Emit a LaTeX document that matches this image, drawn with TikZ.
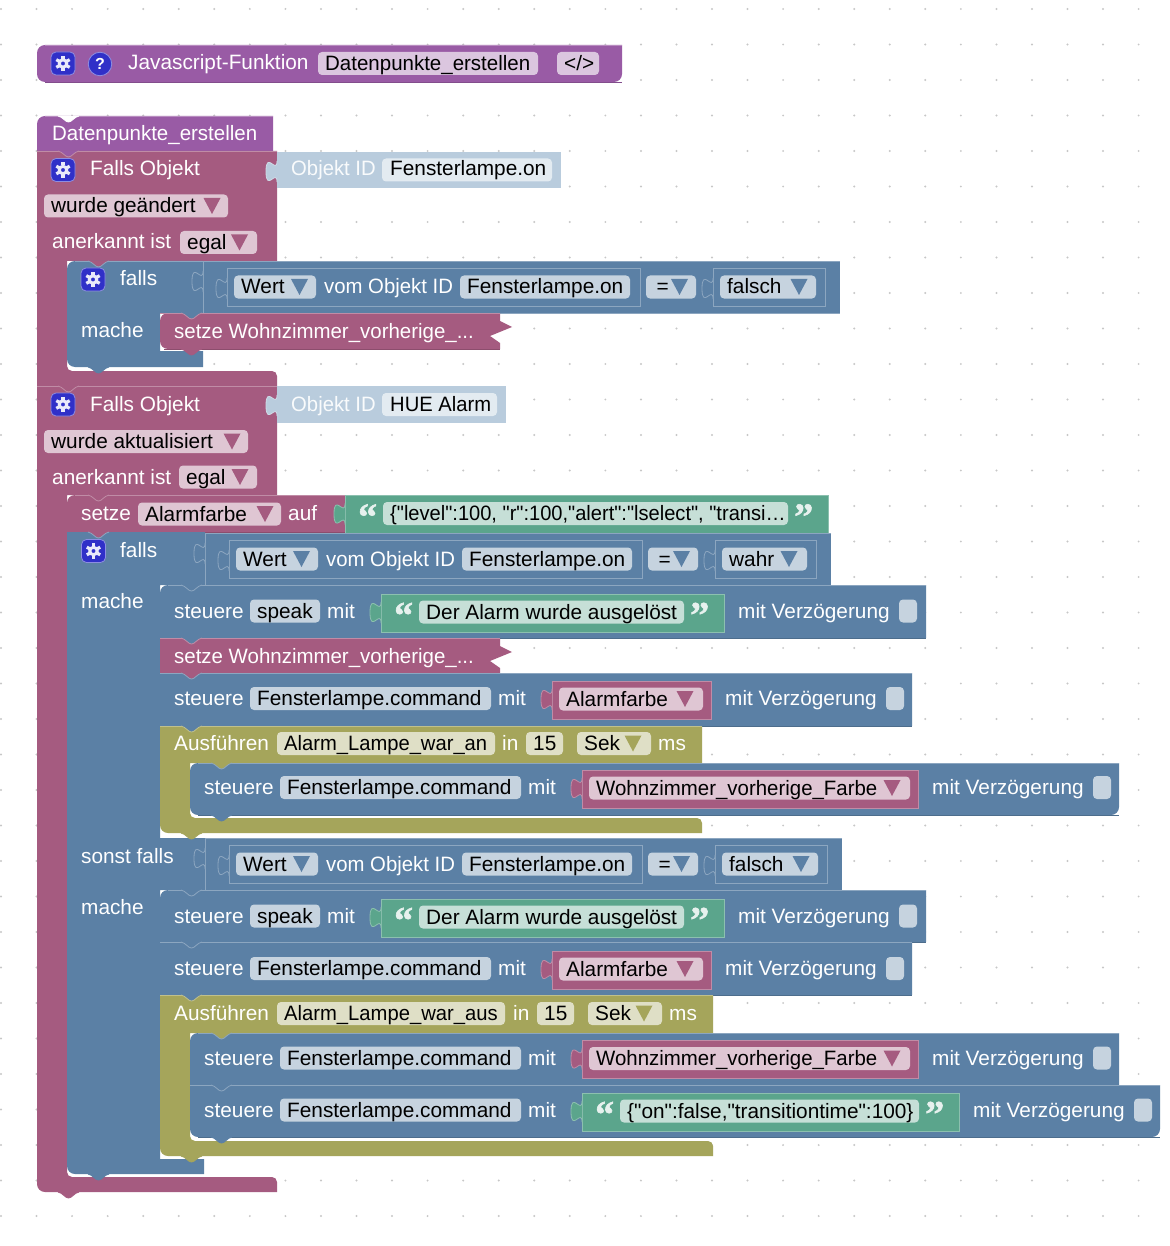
\documentclass[tikz,border=0pt]{standalone}
\usepackage{fontspec}
\newfontfamily\blockfamily{Liberation Sans}
\newfontfamily\quotefont[BoldFeatures={FakeBold=1.5}]{Liberation Serif}
\definecolor{blockblue}{HTML}{5B80A5}
\definecolor{blockpink}{HTML}{A55B80}
\definecolor{blockgreen}{HTML}{5BA58C}
\definecolor{blockolive}{HTML}{A5A55B}
\definecolor{blockpurple}{HTML}{995BA5}
\definecolor{blockpale}{HTML}{B9CCDD}
\definecolor{iconblue}{HTML}{3030C8}
\newcommand{\blockfont}{\blockfamily\fontsize{20.8}{24}\selectfont}
\newcommand{\tight}[2]{\scalebox{#1}[1]{#2}}
% plain text on a block
\newcommand{\lbl}[4]{\node (#1) [blocktext] at (#2,#3+7) {#4};}
% editable field: name, x1, x2, y, colour, text
\newcommand{\fld}[6]{\fill[#5!35!white,rounded corners=4pt] (#2,#4-11.5) rectangle (#3,#4+11.5);
  \node (#1) [fieldtext] at (#2+7,#4+7) {#6};}
\newcommand{\dropmark}[3]{\fill[#3] (#1-8.5,#2-8) -- (#1+8.5,#2-8) -- (#1,#2+8) -- cycle;}
% block body: x1, y1, x2, y2, colour, top left radius, bottom left radius
\newcommand{\blk}[7]{\fill[#5] (#3,#4) -- (#3,#2) [rounded corners=#6pt] -- (#1,#2) -- (#1,#2/2+#4/2) [rounded corners=#7pt] -- (#1,#4) -- cycle;
  \draw[#5!70!white,edgeline] (#1+#6,#2) -- (#3,#2);
  \draw[#5!85!black,edgeline] (#1+#7,#4) -- (#3,#4);}
% value block with an outline
\newcommand{\valblk}[5]{\path[fill=#5,draw=#5!70!white,edgeline] (#1,#2) rectangle (#3,#4);}
% puzzle tab of a value block
\newcommand{\puz}[3]{\fill[#3] (#1,#2) .. controls (#1,#2+14) and (#1-11,#2-11) .. (#1-11,#2+10.5)
    .. controls (#1-11,#2+32) and (#1,#2+7) .. (#1,#2+21) -- cycle;
  \draw[#3!70!white,edgeline] (#1,#2) .. controls (#1,#2+14) and (#1-11,#2-11) .. (#1-11,#2+10.5)
    .. controls (#1-11,#2+32) and (#1,#2+7) .. (#1,#2+21);}
% statement tab: x, y, colour, edge colour
\newcommand{\nub}[4]{\fill[#3] (#1,#2) .. controls (#1+5,#2+1) and (#1+7,#2+6) .. (#1+10.5,#2+6)
    .. controls (#1+14,#2+6) and (#1+16,#2+1) .. (#1+21,#2) -- cycle;
  \draw[#4,edgeline] (#1,#2) .. controls (#1+5,#2+1) and (#1+7,#2+6) .. (#1+10.5,#2+6)
    .. controls (#1+14,#2+6) and (#1+16,#2+1) .. (#1+21,#2);}
\newcommand{\gearicon}[3]{\node (#1) [iconbox] at (#2,#3) {};
  \draw[gearring] (#1.center) circle (3.7pt);
  \foreach \ga in {30,90,...,330} \draw[gearteeth] (#1.center) ++(\ga:4.5pt) -- ++(\ga:3.2pt);}
% the zigzag statement
\newcommand{\setzeblk}[3]{\fill[blockpink] (500,#2) -- (500,#2+8) -- (512,#2+14) -- (490,#2+23) -- (500,#2+30) -- (500,#3)
    [rounded corners=#1pt] -- (160,#3) -- (160,#2/2+#3/2) -- (160,#2) [sharp corners] -- cycle;
  \draw[blockpink!70!white,edgeline] (160,#2) -- (500,#2);
  \draw[blockpink!85!black,edgeline] (164,#3) -- (500,#3);
  \lbl{sz#2}{174}{#2+18}{\tight{.983}{setze Wohnzimmer\_vorherige\_...}}}
% compare row: prefix, x offset, y, word, right of its field, arrow, right of its block, right end
\newcommand{\cmpblock}[8]{\begin{scope}[shift={(#2,#3)}]
    \fill[blockblue] (203,-26) rectangle (#8,26);
    \draw[blockblue!70!white,edgeline] (#8,-26) -- (203,-26) -- (203,26) -- (#8,26);
    \puz{203}{-16}{blockblue}
    \valblk{227}{-19}{640}{19}{blockblue}
    \puz{227}{-9}{blockblue}
    \fld{#1w}{234}{316}{0}{blockblue}{Wert}
    \dropmark{299.5}{0}{blockblue}
    \lbl{#1o}{324}{0}{\tight{.977}{vom Objekt ID}}
    \fld{#1f}{460}{630}{0}{blockblue}{Fensterlampe.on}
    \fld{#1e}{646}{696}{0}{blockblue}{\,=}
    \dropmark{679.5}{0}{blockblue}
    \valblk{713}{-19}{#7}{19}{blockblue}
    \puz{713}{-9}{blockblue}
    \fld{#1b}{720}{#5}{0}{blockblue}{#4}
    \dropmark{#6}{0}{blockblue}
  \end{scope}}
% steuere row: prefix, x, y, device, right of its field, x of mit
\newcommand{\steuerhead}[6]{\lbl{#1s}{#2+14}{#3}{steuere}
  \fld{#1d}{#2+90}{#5}{#3}{blockblue}{#4}
  \lbl{#1m}{#6}{#3}{mit}}
\newcommand{\delay}[3]{\lbl{#1v}{#2}{#3}{mit Verzögerung}
  \fill[blockblue!35!white,rounded corners=4pt] (#2+161,#3-11.5) rectangle (#2+179,#3+11.5);}
% pink variable value: prefix, x1, x2, y, text, arrow
\newcommand{\varval}[6]{\valblk{#2}{#4-18}{#3}{#4+20}{blockpink}
  \puz{#2}{#4-10}{blockpink}
  \fld{#1a}{#2+7}{#3-8}{#4}{blockpink}{#5}
  \dropmark{#6}{#4}{blockpink}}
% green text value: prefix, x1, right of the field, y, text
\newcommand{\strval}[5]{\valblk{#2}{#4-18}{#3+40}{#4+20}{blockgreen}
  \puz{#2}{#4-10}{blockgreen}
  \node (#1q) [quotemark] at (#2+13,#4+16) {“};
  \fld{#1t}{#2+38}{#3}{#4}{blockgreen}{#5}
  \node (#1r) [quotemark] at (#3+6,#4+16) {”};}
\begin{document}
\begin{tikzpicture}[x=1pt,y=-1pt,
    blocktext/.style={anchor=base west,inner sep=0pt,text=white,font=\blockfont},
    paletext/.style={blocktext,text=white!92!blockpale},
    fieldtext/.style={blocktext,text=black},
    quotemark/.style={anchor=base west,inner sep=0pt,text=white!85!blockgreen,font=\quotefont\bfseries\fontsize{38}{38}\selectfont},
    edgeline/.style={line width=0.8pt},
    griddot/.style={fill=black!22},
    iconbox/.style={rectangle,rounded corners=5pt,minimum width=24pt,minimum height=23pt,inner sep=0pt,fill=iconblue,draw=iconblue!55!white,line width=0.8pt},
    helpbox/.style={circle,minimum size=23.5pt,inner sep=0pt,fill=iconblue,draw=iconblue!55!white,line width=0.8pt,text=white,font=\blockfamily\bfseries\fontsize{16}{16}\selectfont},
    gearring/.style={draw=white!90!iconblue,line width=3pt},
    gearteeth/.style={draw=white!90!iconblue,line width=3.2pt}
  ]
  \useasboundingbox (0,0) rectangle (1169,1246);
  \fill[white] (0,0) rectangle (1169,1246);
  \foreach \gx in {0,...,32} \foreach \gy in {0,...,34}
    \fill[griddot] (1+35.55*\gx,9+35.5*\gy) circle (1.1pt);

  % function block
  \blk{37}{45}{622}{82}{blockpurple}{8}{8}
  \gearicon{gfunc}{63}{63.5}
  \node (help) [helpbox] at (100,64) {?};
  \lbl{jsfunc}{128}{63}{Javascript-Funktion}
  \fld{fname}{318}{538}{63.5}{blockpurple}{\tight{.985}{Datenpunkte\_erstellen}}
  \fld{fcode}{557}{599}{63.5}{blockpurple}{</>}

  % hat
  \blk{37}{116}{273}{151}{blockpurple}{8}{.1}
  \nub{58}{116}{white}{white}
  \lbl{hat}{52}{134}{\tight{.985}{Datenpunkte\_erstellen}}

  % first trigger
  \fill[blockpink] (37,151) -- (277,151) -- (277,261) -- (67,261) [rounded corners=5pt] -- (67,371) -- (277,371) [sharp corners] -- (277,386) -- (37,386) -- cycle;
  \draw[blockpink!70!white,edgeline] (37,151) -- (277,151);
  \nub{58}{151}{blockpurple}{blockpink!70!white}
  \gearicon{gtrig}{63}{170}
  \lbl{trigt}{90}{169}{Falls Objekt}
  \fill[blockpale] (277,152) rectangle (561,188);
  \puz{277}{161}{blockpale}
  \node (trigo) [paletext] at (291,176) {\tight{.975}{Objekt ID}};
  \fill[blockpale!40!white,rounded corners=4pt] (382,158.5) rectangle (552,181.5);
  \node (trigf) [fieldtext] at (390,176) {Fensterlampe.on};
  \fld{trigc}{44}{228}{206}{blockpink}{wurde geändert}
  \dropmark{212}{206}{blockpink}
  \lbl{trigk}{52}{242}{anerkannt ist}
  \fld{trige}{180}{257}{242.5}{blockpink}{egal}
  \dropmark{239.5}{242.5}{blockpink}

  % first falls
  \fill[blockblue] (160,351) -- (203,351) -- (203,367) [rounded corners=8pt] -- (67,367) -- (67,320) -- (67,261) [sharp corners] -- (203,261) -- (203,313) -- (160,313) -- cycle;
  \draw[blockblue!70!white,edgeline] (67,261) ++(8,0) -- (203,261);
  \cmpblock{ca}{0}{287}{falsch}{816}{799}{825}{840}
  \nub{88}{261}{blockpink}{blockblue!70!white}
  \gearicon{gfa}{93}{279.5}
  \lbl{fa}{120}{279}{falls}
  \lbl{ma}{81}{330}{mache}
  \setzeblk{8}{313}{349}
  \nub{181}{313}{blockblue}{blockpink!70!white}
  \nub{181}{349}{blockpink}{blockpink}
  \nub{88}{367}{blockblue}{blockblue}

  % second trigger
  \fill[blockpink] (37,386) -- (277,386) -- (277,495) -- (67,495) [rounded corners=5pt] -- (67,1177) -- (277,1177) [sharp corners] -- (277,1192) [rounded corners=8pt] -- (37,1192) -- (37,800) [sharp corners] -- cycle;
  \draw[blockpink!70!white,edgeline] (37,386) -- (277,386);
  \nub{58}{386}{blockpink}{blockpink!70!white}
  \nub{58}{1192}{blockpink}{blockpink}
  \gearicon{gtrigb}{63}{404.5}
  \lbl{trigbt}{90}{404}{Falls Objekt}
  \fill[blockpale] (277,386) rectangle (506,423);
  \puz{277}{395}{blockpale}
  \node (trigbo) [paletext] at (291,411) {\tight{.975}{Objekt ID}};
  \fill[blockpale!40!white,rounded corners=4pt] (382,393) rectangle (497,416);
  \node (trigbf) [fieldtext] at (390,411) {\tight{.97}{HUE Alarm}};
  \fld{trigbc}{44}{248}{441.5}{blockpink}{wurde aktualisiert}
  \dropmark{232}{441.5}{blockpink}
  \lbl{trigbk}{52}{477}{anerkannt ist}
  \fld{trigbe}{179}{257}{477}{blockpink}{egal}
  \dropmark{240}{477}{blockpink}

  % setze colour
  \blk{67}{495}{345}{532}{blockpink}{8}{.1}
  \nub{88}{495}{blockpink}{blockpink!70!white}
  \lbl{sct}{81}{513}{setze}
  \fld{sca}{138}{281}{514}{blockpink}{Alarmfarbe}
  \dropmark{265}{514}{blockpink}
  \lbl{scb}{288}{513}{auf}
  \strval{sc}{345}{788}{513.5}{\tight{.965}{\{"level":100, "r":100,"alert":"lselect", "transi…}}

  % second falls
  \fill[blockblue] (67,532) -- (205,532) -- (205,585) -- (160,585) -- (160,838) -- (205,838) -- (205,890) -- (160,890) -- (160,1159) -- (204,1159) -- (204,1174) [rounded corners=8pt] -- (67,1174) -- (67,800) [sharp corners] -- cycle;
  \cmpblock{cb}{2}{559}{wahr}{805}{787}{814}{829}
  \cmpblock{cc}{2}{864}{falsch}{816}{799}{825}{840}
  \nub{88}{532}{blockpink}{blockblue!70!white}
  \nub{88}{1174}{blockblue}{blockblue}
  \gearicon{gfb}{93.5}{551}
  \lbl{fb}{120}{550}{falls}
  \lbl{mb}{81}{601}{mache}
  \lbl{fc}{81}{856}{sonst falls}
  \lbl{mc}{81}{907}{mache}

  % statements of the falls
  \blk{160}{585}{926}{638}{blockblue}{8}{.1}
  \nub{181}{585}{blockblue}{blockblue!70!white}
  \steuerhead{ra}{160}{611}{speak}{320}{327}
  \strval{ra}{381}{684}{612}{Der Alarm wurde ausgelöst}
  \delay{ra}{738}{611}

  \setzeblk{.1}{638}{673}
  \nub{181}{638}{blockblue}{blockpink!70!white}

  \blk{160}{673}{912}{726}{blockblue}{.1}{.1}
  \nub{181}{673}{blockpink}{blockblue!70!white}
  \steuerhead{rb}{160}{698.5}{Fensterlampe.command}{491}{498}
  \varval{rb}{552}{711}{699}{Alarmfarbe}{685}
  \delay{rb}{725}{698.5}

  \fill[blockolive] (160,726) -- (702,726) -- (702,763) -- (190,763) [rounded corners=5pt] -- (190,818) -- (702,818) [sharp corners] -- (702,833) [rounded corners=8pt] -- (160,833) -- (160,780) [sharp corners] -- cycle;
  \draw[blockolive!70!white,edgeline] (160,726) -- (702,726);
  \nub{181}{726}{blockblue}{blockolive!70!white}
  \nub{181}{833}{blockolive}{blockolive}
  \lbl{rc}{174}{743}{Ausführen}
  \fld{rca}{277}{495}{743.5}{blockolive}{\tight{.97}{Alarm\_Lampe\_war\_an}}
  \lbl{rcb}{502}{743}{in}
  \fld{rcc}{526}{563}{743.5}{blockolive}{15}
  \fld{rcd}{577}{651}{743.5}{blockolive}{Sek}
  \dropmark{633}{743.5}{blockolive}
  \lbl{rce}{658}{743}{ms}

  \blk{190}{763}{1119}{815}{blockblue}{8}{8}
  \nub{211}{763}{blockolive}{blockblue!70!white}
  \nub{211}{815}{blockblue}{blockblue}
  \steuerhead{rd}{190}{787.5}{Fensterlampe.command}{521}{528}
  \varval{rd}{582}{918}{788}{\tight{.982}{Wohnzimmer\_vorherige\_Farbe}}{892}
  \delay{rd}{932}{787.5}

  % statements of the sonst falls
  \blk{160}{890}{926}{942}{blockblue}{8}{.1}
  \nub{181}{890}{blockblue}{blockblue!70!white}
  \steuerhead{re}{160}{916}{speak}{320}{327}
  \strval{re}{381}{684}{917}{Der Alarm wurde ausgelöst}
  \delay{re}{738}{916}

  \blk{160}{942}{912}{995}{blockblue}{.1}{.1}
  \nub{181}{942}{blockblue}{blockblue!70!white}
  \steuerhead{rf}{160}{968.5}{Fensterlampe.command}{491}{498}
  \varval{rf}{552}{711}{969}{Alarmfarbe}{685}
  \delay{rf}{725}{968.5}

  \fill[blockolive] (160,995) -- (713,995) -- (713,1033) -- (190,1033) [rounded corners=5pt] -- (190,1141) -- (713,1141) [sharp corners] -- (713,1156) [rounded corners=8pt] -- (160,1156) -- (160,1080) [sharp corners] -- cycle;
  \draw[blockolive!70!white,edgeline] (160,995) -- (713,995);
  \nub{181}{995}{blockblue}{blockolive!70!white}
  \nub{181}{1156}{blockolive}{blockolive}
  \lbl{rg}{174}{1013}{Ausführen}
  \fld{rga}{277}{505}{1013.5}{blockolive}{\tight{.972}{Alarm\_Lampe\_war\_aus}}
  \lbl{rgb}{513}{1013}{in}
  \fld{rgc}{537}{574}{1013.5}{blockolive}{15}
  \fld{rgd}{588}{662}{1013.5}{blockolive}{Sek}
  \dropmark{644}{1013.5}{blockolive}
  \lbl{rge}{669}{1013}{ms}

  \blk{190}{1033}{1119}{1085}{blockblue}{8}{.1}
  \nub{211}{1033}{blockolive}{blockblue!70!white}
  \steuerhead{rh}{190}{1058}{Fensterlampe.command}{521}{528}
  \varval{rh}{582}{918}{1058.5}{\tight{.982}{Wohnzimmer\_vorherige\_Farbe}}{892}
  \delay{rh}{932}{1058}

  \blk{190}{1085}{1160}{1137}{blockblue}{.1}{8}
  \nub{211}{1085}{blockblue}{blockblue!70!white}
  \nub{211}{1137}{blockblue}{blockblue}
  \steuerhead{ri}{190}{1110}{Fensterlampe.command}{521}{528}
  \strval{ri}{582}{919}{1111}{\{"on":false,"transitiontime":100\}}
  \delay{ri}{973}{1110}
\end{tikzpicture}
\end{document}
